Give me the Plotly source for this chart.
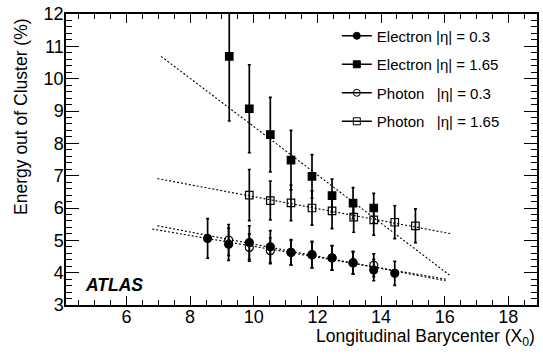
import plotly.graph_objects as go

# Electron |eta| = 0.3 (filled circles)
el03_x = [8.55, 9.21, 9.86, 10.52, 11.17, 11.83, 12.46, 13.12, 13.77, 14.43]
el03_y = [5.06, 4.88, 4.93, 4.80, 4.63, 4.56, 4.46, 4.31, 4.08, 3.98]
el03_err = [0.61, 0.50, 0.52, 0.50, 0.39, 0.41, 0.38, 0.35, 0.33, 0.37]

# Electron |eta| = 1.65 (filled squares)
el165_x = [9.23, 9.86, 10.52, 11.17, 11.83, 12.46, 13.12, 13.77]
el165_y = [10.69, 9.07, 8.27, 7.48, 6.98, 6.38, 6.15, 6.00]
el165_err = [2.0, 1.36, 1.15, 0.92, 0.67, 0.51, 0.48, 0.45]

# Photon |eta| = 0.3 (open circles)
ph03_x = [9.21, 9.86, 10.52, 11.17, 11.83, 12.46, 13.12, 13.77]
ph03_y = [5.01, 4.78, 4.68, 4.62, 4.55, 4.45, 4.30, 4.23]
ph03_err = [0.48, 0.42, 0.40, 0.38, 0.40, 0.37, 0.34, 0.35]

# Photon |eta| = 1.65 (open squares)
ph165_x = [9.86, 10.52, 11.17, 11.83, 12.46, 13.14, 13.77, 14.43, 15.08]
ph165_y = [6.40, 6.23, 6.16, 6.00, 5.91, 5.72, 5.63, 5.56, 5.45]
ph165_err = [0.79, 0.60, 0.55, 0.53, 0.55, 0.47, 0.47, 0.51, 0.52]

# straight-line fits (end points)
fit_el03_x, fit_el03_y = [6.97, 16.03], [5.45, 3.75]
fit_ph03_x, fit_ph03_y = [6.81, 16.03], [5.35, 3.80]
fit_el165_x, fit_el165_y = [7.09, 16.17], [10.69, 3.91]
fit_ph165_x, fit_ph165_y = [6.97, 16.17], [6.91, 5.21]

labels = ["Electron |η| = 0.3", "Electron |η| = 1.65",
          "Photon   |η| = 0.3", "Photon   |η| = 1.65"]

FONT = "Liberation Sans, Arial, Helvetica, sans-serif"

fig = go.Figure()

# fit lines
for fx, fy in [(fit_el165_x, fit_el165_y), (fit_ph165_x, fit_ph165_y),
               (fit_el03_x, fit_el03_y), (fit_ph03_x, fit_ph03_y)]:
    fig.add_trace(go.Scatter(x=fx, y=fy, mode="lines", showlegend=False,
                             line=dict(color="black", width=1.1, dash="2px,2px")))

series = [
    (ph03_x, ph03_y, ph03_err, "circle-open", 8),
    (ph165_x, ph165_y, ph165_err, "square-open", 7.5),
    (el03_x, el03_y, el03_err, "circle", 8),
    (el165_x, el165_y, el165_err, "square", 7.5),
]
for x, y, e, sym, sz in series:
    fig.add_trace(go.Scatter(
        x=x, y=y, mode="markers", showlegend=False,
        marker=dict(symbol=sym, size=sz, color="black",
                    line=dict(color="black", width=1.2)),
        error_y=dict(type="data", array=e, color="black", thickness=1.7, width=1.5),
    ))

# legend entries
for lab, sym in zip(labels, ["circle", "square", "circle-open", "square-open"]):
    fig.add_trace(go.Scatter(
        x=[None], y=[None], mode="lines+markers", name=lab, legendgroup=lab,
        marker=dict(symbol=sym, size=7, color="black", line=dict(color="black", width=1)),
        line=dict(color="black", width=1.5),
    ))

axis_common = dict(
    showgrid=False, zeroline=False, showline=True, linecolor="black", linewidth=1.5,
    mirror="allticks", ticks="inside", tickcolor="black", tickwidth=1.2,
    tickfont=dict(family=FONT, size=18, color="black"), ticklabeloverflow="allow",
)

fig.update_xaxes(range=[4.1, 18.9], tickvals=[6, 8, 10, 12, 14, 16, 18], ticklen=9,
                 ticklabelstandoff=-5,
                 minor=dict(dtick=0.5, ticks="inside", ticklen=5, tickcolor="black", tickwidth=1),
                 **axis_common)
fig.update_yaxes(range=[3, 12], dtick=1, ticklen=13, ticklabelstandoff=-3,
                 minor=dict(dtick=0.2, ticks="inside", ticklen=6, tickcolor="black", tickwidth=1),
                 **axis_common)

fig.update_layout(
    width=543, height=354,
    margin=dict(l=66, r=6, t=4, b=49),
    plot_bgcolor="white", paper_bgcolor="white",
    font=dict(family=FONT, color="black"),
    legend=dict(x=0.575, y=0.981, xanchor="left", yanchor="top",
                bgcolor="rgba(0,0,0,0)", font=dict(family=FONT, size=15),
                tracegroupgap=6),
    annotations=[
        dict(text="Energy out of Cluster (%)", textangle=-90, xref="paper", yref="paper",
             x=-0.0955, y=0.99, xanchor="center", yanchor="top", showarrow=False,
             font=dict(family=FONT, size=17.5)),
        dict(text="Longitudinal Barycenter (X<sub>0</sub>)", xref="paper", yref="paper",
             x=1.0, y=-0.065, xanchor="right", yanchor="top", showarrow=False,
             font=dict(family=FONT, size=17.5)),
        dict(text="<b><i>ATLAS</i></b>", xref="x", yref="y", x=4.62, y=3.63,
             xanchor="left", yanchor="middle", showarrow=False,
             font=dict(family=FONT, size=17.5)),
    ],
)

fig.write_html("out.html", config={"displayModeBar": False},
               post_script="document.body.style.margin='0';")
